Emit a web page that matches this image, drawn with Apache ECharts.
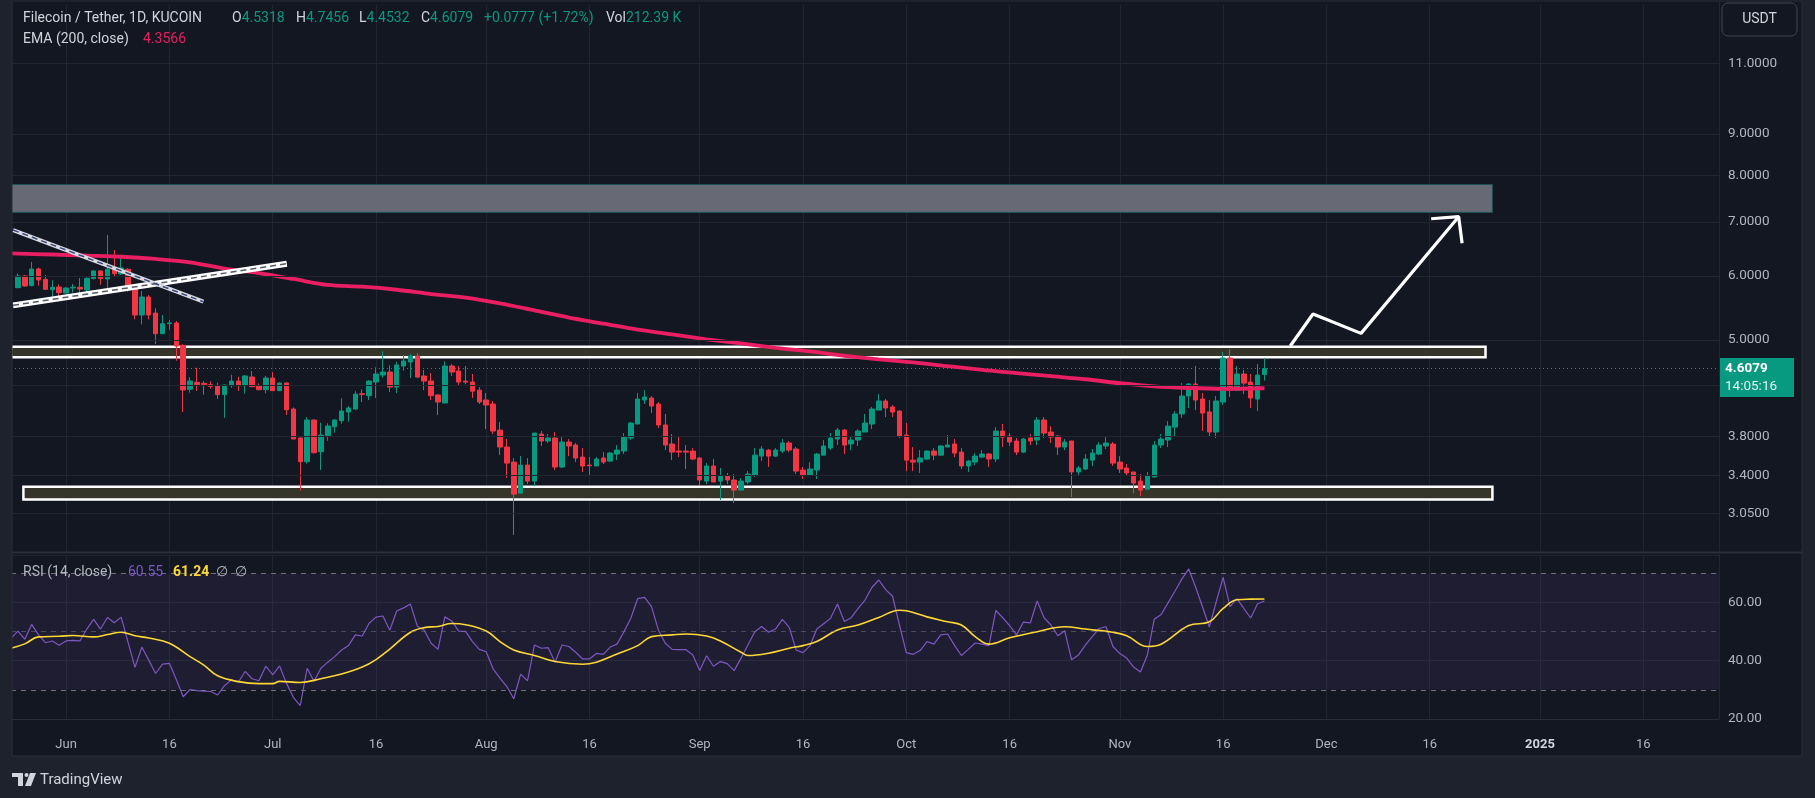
<!DOCTYPE html>
<html><head><meta charset="utf-8">
<script src="https://cdn.jsdelivr.net/npm/echarts@6/dist/echarts.min.js"></script>
<style>html,body{margin:0;padding:0;background:#131722;}#c{width:1815px;height:798px;}</style>
</head><body><div id="c"></div>
<script>
// ---------- DATA (days counted from 2024-06-01) ----------
const axisFirstDay = -8, axisLastDay = 240;
const candleFirstDay = -7;
const opens = [5.805,6.001,5.838,6.122,5.944,5.771,5.815,5.716,5.799,5.810,
5.766,5.956,6.088,5.950,6.116,6.036,6.116,5.805,5.369,5.652,
5.399,5.090,5.238,5.248,4.924,4.343,4.431,4.418,4.401,4.389,
4.278,4.389,4.447,4.389,4.499,4.385,4.339,4.486,4.327,4.422,
4.106,3.780,3.533,3.979,3.635,3.805,3.904,3.971,4.071,4.106,
4.289,4.265,4.434,4.524,4.563,4.371,4.642,4.695,4.776,4.511,
4.447,4.273,4.177,4.642,4.576,4.447,4.434,4.333,4.213,4.165,
3.867,3.684,3.529,3.230,3.499,3.343,3.823,3.748,3.780,3.480,
3.737,3.705,3.580,3.499,3.490,3.570,3.539,3.611,3.642,3.780,
3.934,4.213,4.237,4.165,3.923,3.716,3.642,3.642,3.642,3.570,
3.343,3.490,3.343,3.391,3.353,3.258,3.334,3.401,3.590,3.652,
3.590,3.642,3.727,3.663,3.450,3.401,3.450,3.600,3.673,3.769,
3.867,3.716,3.758,3.845,3.934,4.094,4.201,4.130,4.082,3.812,
3.549,3.529,3.560,3.642,3.600,3.684,3.716,3.631,3.490,3.529,
3.580,3.611,3.560,3.856,3.801,3.748,3.631,3.780,3.758,3.979,
3.845,3.801,3.684,3.748,3.431,3.460,3.549,3.611,3.695,3.716,
3.529,3.470,3.431,3.343,3.267,3.382,3.705,3.758,3.900,4.048,
4.261,4.409,4.225,4.071,3.845,4.189,4.749,4.333,4.537,4.434,
4.225,4.5318];
const closes = [6.001,5.832,6.122,5.933,5.777,5.810,5.722,5.799,5.810,5.782,
5.961,6.088,5.956,6.116,6.041,6.140,5.782,5.369,5.652,5.369,
5.090,5.238,5.248,4.914,4.335,4.447,4.401,4.405,4.380,4.278,
4.397,4.447,4.389,4.512,4.376,4.339,4.486,4.327,4.422,4.098,
3.769,3.533,3.979,3.625,3.812,3.912,3.979,4.082,4.118,4.285,
4.281,4.447,4.537,4.563,4.371,4.655,4.709,4.776,4.498,4.447,
4.265,4.189,4.642,4.563,4.434,4.434,4.321,4.189,4.153,3.856,
3.684,3.519,3.221,3.499,3.343,3.834,3.748,3.780,3.480,3.737,
3.695,3.570,3.490,3.493,3.560,3.529,3.621,3.652,3.790,3.945,
4.225,4.249,4.141,3.923,3.705,3.631,3.631,3.631,3.560,3.353,
3.490,3.334,3.391,3.353,3.258,3.343,3.411,3.600,3.663,3.590,
3.652,3.727,3.652,3.440,3.401,3.460,3.611,3.695,3.780,3.867,
3.705,3.758,3.856,3.945,4.106,4.201,4.118,4.071,3.801,3.549,
3.529,3.570,3.642,3.600,3.695,3.705,3.621,3.490,3.539,3.590,
3.611,3.560,3.856,3.790,3.737,3.631,3.769,3.748,3.979,3.834,
3.790,3.684,3.737,3.431,3.470,3.560,3.621,3.705,3.727,3.519,
3.460,3.421,3.324,3.258,3.391,3.705,3.769,3.911,4.048,4.261,
4.409,4.213,4.059,3.845,4.201,4.749,4.333,4.537,4.421,4.237,
4.524,4.6079];
const lows = [5.794,5.821,5.827,5.838,5.766,5.641,5.663,5.711,5.722,5.722,
5.722,5.944,5.855,5.711,5.990,6.018,5.738,5.303,5.228,5.303,
4.943,5.090,5.144,4.713,4.071,4.302,4.323,4.278,4.351,4.225,
4.004,4.363,4.323,4.290,4.372,4.331,4.294,4.323,4.323,4.036,
3.769,3.253,3.513,3.618,3.450,3.751,3.838,3.937,3.960,4.094,
4.189,4.213,4.237,4.489,4.309,4.297,4.580,4.485,4.485,4.333,
4.213,4.036,4.177,4.511,4.396,4.409,4.237,4.165,3.878,3.823,
3.600,3.372,2.866,3.230,3.315,3.296,3.695,3.727,3.450,3.470,
3.590,3.529,3.431,3.401,3.490,3.509,3.529,3.549,3.611,3.758,
3.934,4.165,4.059,3.889,3.652,3.549,3.580,3.460,3.549,3.305,
3.315,3.334,3.167,3.315,3.140,3.258,3.315,3.382,3.539,3.480,
3.580,3.621,3.631,3.411,3.363,3.401,3.363,3.600,3.652,3.705,
3.611,3.652,3.695,3.845,3.878,4.094,4.013,4.013,3.780,3.440,
3.440,3.421,3.549,3.549,3.600,3.684,3.580,3.460,3.431,3.499,
3.570,3.480,3.529,3.684,3.695,3.600,3.621,3.705,3.705,3.780,
3.727,3.600,3.652,3.194,3.391,3.450,3.490,3.600,3.663,3.490,
3.421,3.391,3.230,3.203,3.267,3.382,3.673,3.684,3.790,4.002,
4.118,4.094,3.856,3.801,3.780,4.153,4.249,4.321,4.285,4.118,
4.082,4.4532];
const highs = [6.047,6.018,6.246,6.146,6.018,5.927,5.860,5.810,5.866,5.967,
5.978,6.099,6.088,6.746,6.463,6.372,6.134,5.821,5.749,5.684,
5.472,5.369,5.293,5.278,4.938,4.499,4.620,4.447,4.443,4.426,
4.401,4.529,4.503,4.521,4.576,4.418,4.512,4.563,4.431,4.431,
4.125,3.790,4.013,3.987,3.949,3.942,3.990,4.233,4.141,4.321,
4.341,4.460,4.624,4.841,4.651,4.700,4.790,4.804,4.813,4.589,
4.550,4.285,4.704,4.668,4.642,4.642,4.537,4.371,4.297,4.201,
3.956,3.769,3.570,3.590,3.570,3.834,3.856,3.823,3.845,3.790,
3.769,3.727,3.673,3.580,3.580,3.631,3.631,3.705,3.834,3.956,
4.297,4.333,4.261,4.189,4.048,3.823,3.801,3.705,3.673,3.580,
3.519,3.560,3.470,3.421,3.411,3.372,3.440,3.673,3.695,3.663,
3.673,3.769,3.748,3.684,3.480,3.529,3.621,3.758,3.834,3.889,
3.878,3.801,3.878,4.048,4.130,4.285,4.225,4.153,4.094,3.945,
3.684,3.652,3.652,3.673,3.705,3.812,3.769,3.673,3.549,3.621,
3.652,3.621,3.900,3.934,3.834,3.780,3.780,3.823,4.013,4.013,
3.911,3.812,3.769,3.748,3.490,3.611,3.663,3.737,3.790,3.737,
3.590,3.509,3.431,3.411,3.431,3.748,3.823,3.967,4.082,4.421,
4.421,4.642,4.297,4.213,4.261,4.831,4.873,4.642,4.589,4.537,
4.668,4.7456];

const emaDays = [-8,-2,3,8,13,18,23,28,33,38,43,48,53,58,63,68,73,78,83,88,93,98,103,108,113,118,123,128,133,138,143,148,153,158,163,168,174];
const emaValues = [6.40,6.38,6.36,6.34,6.30,6.24,6.13,6.05,5.95,5.85,5.82,5.77,5.70,5.64,5.55,5.44,5.33,5.24,5.15,5.08,5.01,4.95,4.89,4.84,4.78,4.73,4.69,4.64,4.59,4.55,4.51,4.47,4.42,4.38,4.36,4.35,4.3566];

const rsiFirstDay = -8;
const rsiValues = [47.7,50.2,47.4,52.5,48.9,46.2,46.8,45.3,46.8,47.0,
46.8,50.9,54.2,50.9,54.9,53.1,55.0,46.3,37.7,44.7,
40.2,35.6,38.8,39.1,33.5,27.6,30.1,29.7,29.5,29.4,
28.2,31.4,33.4,32.6,36.3,33.8,33.1,38.1,35.1,38.2,
32.2,27.4,24.5,37.4,32.9,37.4,39.5,41.4,43.7,45.2,
48.9,48.5,52.9,55.0,55.4,50.5,57.1,58.2,59.5,51.9,
50.5,46.0,43.9,55.1,53.7,50.2,50.1,46.6,43.9,43.1,
37.2,34.0,31.1,26.9,35.4,33.1,45.4,44.3,44.5,39.5,
45.4,44.9,42.9,40.6,40.6,42.5,42.2,44.7,45.7,50.0,
54.6,61.4,61.8,58.6,50.6,46.0,43.9,43.8,43.8,42.0,
36.6,41.7,38.1,39.7,39.0,36.6,40.9,45.4,50.0,51.8,
49.8,50.9,54.2,51.5,43.7,42.8,45.1,50.9,52.7,54.6,
59.5,53.5,54.8,58.0,60.9,65.2,67.8,64.5,62.2,52.3,
42.8,42.2,43.5,46.6,45.7,48.9,49.2,45.3,41.8,43.9,
46.1,45.7,45.2,57.3,54.8,52.1,48.9,53.3,53.0,60.6,
54.8,52.3,48.6,50.3,40.3,42.0,45.4,48.3,51.1,51.7,
44.9,42.5,40.9,37.8,36.1,42.0,54.3,55.9,59.9,63.9,
68.1,71.6,65.4,58.6,51.6,60.3,68.7,58.6,61.4,58.0,
54.7,59.6,60.55];
const rsiMaDays = [-8,-6,-4,-1,1,4,6,8,10,12,15,18,20,22,25,28,30,31,34,37,40,43,45,47,50,52,54,56,58,61,63,65,68,71,75,77,80,83,85,88,90,93,95,98,99,102,105,107,109,112,115,118,121,122,125,128,130,132,134,137,141,145,148,152,154,157,159,163,166,168,170,172,174];
const rsiMaValues = [44.3,45.8,48.2,48.4,48.7,48.2,49.0,49.8,48.6,47.8,46.0,41.4,38.5,34.8,32.8,32.1,32.1,32.9,32.5,33.8,35.4,37.8,40.4,44.0,49.8,51.4,51.8,52.8,52.4,50.2,46.6,43.7,41.8,39.7,38.8,39.5,42.3,45.2,48.3,48.9,49.2,48.5,46.8,42.9,41.8,42.6,44.3,45.2,46.6,50.6,52.3,54.9,57.4,57.2,55.1,53.4,52.3,48.3,45.7,47.9,50.0,51.7,50.9,49.8,48.6,44.9,45.7,52.1,53.4,58.0,61.0,61.2,61.24];

const priceTicks = [3.05, 3.4, 3.8, 4.4, 5, 6, 7, 8, 9, 11];
const priceTicksCoveredByTag = [4.4];
const rsiBands = [30, 50, 70];
const priceRange = [2.7386, 13.0];
const rsiRange = [20, 76.4];

const lastPrice = 4.6079, countdown = '14:05:16';
const legendOHLC = {O: '4.5318', H: '4.7456', L: '4.4532', C: '4.6079'};
const legendChange = '+0.0777 (+1.72%)', legendVol = '212.39 K';
const emaLast = '4.3566', rsiLast = '60.55', rsiMaLast = '61.24';

// drawings (day, price)
const targetZone = [[-8, 7.195], [207.1, 7.79]];
const resistanceZone = [[-8, 4.758], [206.1, 4.905]];
const supportZone = [[-6.2, 3.173], [207.1, 3.289]];
const risingTrend = [[-7.7, 5.519], [32.05, 6.215]];
const fallingTrend = [[-7.7, 6.842], [19.94, 5.576]];
const projectionPath = [[177.75, 4.914], [181.05, 5.384], [188.02, 5.095], [202.2, 7.107]];
const arrowHead = [[198.2, 7.066], [202.2, 7.107], [202.7, 6.587]];

// ---------- BUILD ----------
const FONT = 'Roboto, "Noto Sans", sans-serif';
const gridColor = '#21252f', txt = '#b2b5be', up = '#089981', down = '#f23645';
const base = Date.UTC(2024, 5, 1), DAY = 86400000;
const cats = [];
for (let d = axisFirstDay; d <= axisLastDay; d++) cats.push(new Date(base + d * DAY).toISOString().slice(0, 10));
const cat = d => cats[d - axisFirstDay];
const months = ['Jan','Feb','Mar','Apr','May','Jun','Jul','Aug','Sep','Oct','Nov','Dec'];
const isGridDay = i => { const dd = +cats[i].slice(8, 10); return dd === 1 || dd === 16; };

const candleData = opens.map((o, k) => [cat(candleFirstDay + k), o, closes[k], lows[k], highs[k]]);
const emaData = emaDays.map((d, i) => [cat(d), emaValues[i]]);
const rsiData = rsiValues.map((v, i) => [cat(rsiFirstDay + i), v]);
const rsiMaData = rsiMaDays.map((d, i) => [cat(d), rsiMaValues[i]]);

const chart = echarts.init(document.getElementById('c'), null, {width: 1815, height: 798});

const xCat = (gi, showLabels) => ({
  type: 'category', gridIndex: gi, data: cats, boundaryGap: false,
  axisLine: {show: showLabels, lineStyle: {color: '#2a2e39'}},
  axisTick: {show: false},
  axisLabel: {show: showLabels, interval: (i) => isGridDay(i), margin: 19, color: txt, fontSize: 13, fontFamily: FONT,
    formatter: v => { const y = +v.slice(0,4), m = +v.slice(5,7), dd = +v.slice(8,10);
      if (dd === 16) return '16'; if (m === 1) return '{b|' + y + '}'; return months[m-1]; },
    rich: {b: {fontWeight: 'bold', color: '#d1d4dc', fontSize: 13, fontFamily: FONT}}},
  splitLine: {show: true, interval: (i) => isGridDay(i), lineStyle: {color: gridColor, width: 1}}
});

const lineSeries = (data, color, width, extra) => Object.assign({
  type: 'line', xAxisIndex: 2, yAxisIndex: 0, data, symbol: 'none', silent: true,
  lineStyle: {color, width}, z: 6, animation: false
}, extra || {});

const option = {
  backgroundColor: '#131722',
  animation: false,
  grid: [
    {left: 11, right: 96, top: 5, height: 546},
    {left: 11, right: 96, top: 555, height: 163.8}
  ],
  xAxis: [xCat(0, false), xCat(1, true), {type: 'value', gridIndex: 0, min: axisFirstDay, max: axisLastDay, show: false}],
  yAxis: [
    {type: 'log', gridIndex: 0, min: priceRange[0], max: priceRange[1], position: 'right', show: true,
     axisLine: {show: false}, axisTick: {show: false}, axisLabel: {show: false}, splitLine: {show: false}},
    {type: 'value', gridIndex: 1, min: rsiRange[0], max: rsiRange[1], interval: 20, position: 'right',
     axisLine: {show: false}, axisTick: {show: false},
     axisLabel: {color: txt, fontSize: 13.5, fontFamily: FONT, margin: 9, showMaxLabel: false, formatter: v => v.toFixed(2)},
     splitLine: {lineStyle: {color: gridColor}}}
  ],
  series: [
    {type: 'line', xAxisIndex: 2, yAxisIndex: 0, data: [], z: 0, silent: true,
     markLine: {silent: true, symbol: ['none','none'], animation: false,
       lineStyle: {color: gridColor, width: 1, type: 'solid'},
       label: {position: 'end', distance: 9, color: txt, fontSize: 13.5, fontFamily: FONT, formatter: p => p.value.toFixed(4)},
       emphasis: {disabled: true},
       data: priceTicks.map(v => ({yAxis: v, label: {show: priceTicksCoveredByTag.indexOf(v) < 0}}))}},
    {type: 'line', xAxisIndex: 2, yAxisIndex: 0, data: [], z: 1, silent: true,
     markArea: {silent: true, animation: false, emphasis: {disabled: true},
       data: [
         [{coord: targetZone[0], itemStyle: {color: '#676a74', borderColor: '#1d5257', borderWidth: 1}}, {coord: targetZone[1]}],
         [{coord: resistanceZone[0], itemStyle: {color: '#35352a', borderColor: '#ffffff', borderWidth: 2.5}}, {coord: resistanceZone[1]}],
         [{coord: supportZone[0], itemStyle: {color: '#35352a', borderColor: '#ffffff', borderWidth: 2.5}}, {coord: supportZone[1]}]
       ]}},
    {type: 'candlestick', xAxisIndex: 0, yAxisIndex: 0, data: candleData, encode: {x: 0, y: [1,2,3,4]},
     barWidth: 5, z: 3, silent: true,
     itemStyle: {color: up, color0: down, borderColor: up, borderColor0: down, borderWidth: 1},
     markLine: {silent: true, symbol: ['none','none'], animation: false, emphasis: {disabled: true},
       lineStyle: {color: up, width: 1, type: [1, 3]},
       label: {position: 'end', distance: 0,
         formatter: '{s| }\n{a|' + lastPrice.toFixed(4) + '}\n{b|' + countdown + '}',
         rich: {
           s: {height: 18, lineHeight: 18, fontSize: 12},
           a: {color: '#ffffff', fontSize: 13.5, fontWeight: 'bold', fontFamily: FONT, backgroundColor: up, width: 63, height: 19, lineHeight: 19, padding: [1, 6, 0, 6]},
           b: {color: '#e4f2ee', fontSize: 13.5, fontFamily: FONT, backgroundColor: up, width: 63, height: 19, lineHeight: 19, padding: [0, 6, 1, 6]}
         }},
       data: [{yAxis: lastPrice}]}},
    {type: 'line', xAxisIndex: 0, yAxisIndex: 0, data: emaData, symbol: 'none', smooth: 0.3, silent: true, z: 4,
     lineStyle: {color: '#e91e63', width: 3.8}},
    lineSeries(risingTrend, '#ffffff', 6),
    lineSeries(risingTrend, '#555a66', 1.5, {lineStyle: {color: '#555a66', width: 1.5, type: [6, 4]}, z: 7}),
    lineSeries(fallingTrend, '#d9dbe0', 4),
    lineSeries(fallingTrend, '#3b4a80', 1.5, {lineStyle: {color: '#3b4a80', width: 1.5, type: [6, 4]}, z: 7}),
    lineSeries(projectionPath, '#ffffff', 3.2, {z: 8}),
    lineSeries(arrowHead, '#ffffff', 3.2, {z: 8}),
    {type: 'line', xAxisIndex: 1, yAxisIndex: 1, data: rsiData, symbol: 'none', silent: true, z: 3,
     lineStyle: {color: '#7e57c2', width: 1.2},
     markArea: {silent: true, emphasis: {disabled: true}, itemStyle: {color: 'rgba(126,87,194,0.1)'},
       data: [[{yAxis: rsiBands[0]}, {yAxis: rsiBands[2]}]]},
     markLine: {silent: true, symbol: ['none','none'], emphasis: {disabled: true}, label: {show: false},
       data: [
         {yAxis: rsiBands[2], lineStyle: {color: 'rgba(120,123,134,0.9)', type: [5, 5], width: 1}},
         {yAxis: rsiBands[1], lineStyle: {color: 'rgba(120,123,134,0.5)', type: [5, 5], width: 1}},
         {yAxis: rsiBands[0], lineStyle: {color: 'rgba(120,123,134,0.9)', type: [5, 5], width: 1}}
       ]}},
    {type: 'line', xAxisIndex: 1, yAxisIndex: 1, data: rsiMaData, symbol: 'none', smooth: 0.4, silent: true, z: 4,
     lineStyle: {color: '#fdd835', width: 1.6}}
  ],
  graphic: [
    {type: 'rect', shape: {x: 0, y: 0, width: 12, height: 798}, style: {fill: '#1e222d'}, z: 100, silent: true},
    {type: 'rect', shape: {x: 1802, y: 0, width: 13, height: 798}, style: {fill: '#1e222d'}, z: 100, silent: true},
    {type: 'rect', shape: {x: 0, y: 756, width: 1815, height: 42}, style: {fill: '#1e222d'}, z: 100, silent: true},
    {type: 'rect', shape: {x: 12, y: 1, width: 1790, height: 755}, style: {fill: 'none', stroke: '#2a2e39', lineWidth: 1}, z: 101, silent: true},
    {type: 'line', shape: {x1: 12, y1: 552.5, x2: 1802, y2: 552.5}, style: {stroke: '#2a2e39', lineWidth: 2}, z: 101, silent: true},
    {type: 'line', shape: {x1: 1719.5, y1: 1, x2: 1719.5, y2: 719}, style: {stroke: '#222631', lineWidth: 1}, z: 101, silent: true},
    {type: 'text', x: 23, y: 18, z: 102, silent: true, style: {text: 'Filecoin / Tether, 1D, KUCOIN', fill: '#d1d4dc', font: '14px ' + FONT, verticalAlign: 'middle'}},
    ...['O','H','L','C'].map((k, i) => ({type: 'text', x: [232, 296, 359, 421][i], y: 18, z: 102, silent: true,
      style: {rich: {l: {fill: '#d1d4dc', font: '14px ' + FONT}, v: {fill: up, font: '14px ' + FONT}}, text: '{l|' + k + '}{v|' + legendOHLC[k] + '}', verticalAlign: 'middle'}})),
    {type: 'text', x: 484, y: 18, z: 102, silent: true, style: {text: legendChange, fill: up, font: '14px ' + FONT, verticalAlign: 'middle'}},
    {type: 'text', x: 606, y: 18, z: 102, silent: true, style: {rich: {l: {fill: '#d1d4dc', font: '14px ' + FONT}, v: {fill: up, font: '14px ' + FONT}}, text: '{l|Vol}{v|' + legendVol + '}', verticalAlign: 'middle'}},
    {type: 'text', x: 23, y: 39, z: 102, silent: true, style: {text: 'EMA (200, close)', fill: '#d1d4dc', font: '14px ' + FONT, verticalAlign: 'middle'}},
    {type: 'text', x: 143, y: 39, z: 102, silent: true, style: {text: emaLast, fill: '#e91e63', font: '14px ' + FONT, verticalAlign: 'middle'}},
    {type: 'text', x: 23, y: 572, z: 102, silent: true, style: {text: 'RSI (14, close)', fill: '#b2b5be', font: '14px ' + FONT, verticalAlign: 'middle'}},
    {type: 'text', x: 128, y: 572, z: 102, silent: true, style: {text: rsiLast, fill: '#7e57c2', font: '14px ' + FONT, verticalAlign: 'middle'}},
    {type: 'text', x: 173, y: 572, z: 102, silent: true, style: {text: rsiMaLast, fill: '#fdd835', font: 'bold 14px ' + FONT, verticalAlign: 'middle'}},
    {type: 'text', x: 216, y: 572, z: 102, silent: true, style: {text: '\u2205', fill: '#b2b5be', font: '14px ' + FONT, verticalAlign: 'middle'}},
    {type: 'text', x: 235, y: 572, z: 102, silent: true, style: {text: '\u2205', fill: '#b2b5be', font: '14px ' + FONT, verticalAlign: 'middle'}},
    {type: 'rect', shape: {x: 1722, y: 3, width: 75, height: 33, r: 6}, style: {fill: '#131722', stroke: '#434651', lineWidth: 1}, z: 102, silent: true},
    {type: 'text', x: 1759.5, y: 19.5, z: 103, silent: true, style: {text: 'USDT', fill: '#d1d4dc', font: '14px ' + FONT, align: 'center', verticalAlign: 'middle'}},
    {type: 'rect', shape: {x: 12, y: 773, width: 11, height: 4}, style: {fill: '#d1d4dc'}, z: 102, silent: true},
    {type: 'rect', shape: {x: 18, y: 773, width: 5, height: 13}, style: {fill: '#d1d4dc'}, z: 102, silent: true},
    {type: 'circle', shape: {cx: 26.5, cy: 775, r: 2}, style: {fill: '#d1d4dc'}, z: 102, silent: true},
    {type: 'polygon', shape: {points: [[30, 773], [36, 773], [31, 786], [25, 786]]}, style: {fill: '#d1d4dc'}, z: 102, silent: true},
    {type: 'text', x: 40, y: 780, z: 102, silent: true, style: {text: 'TradingView', fill: '#d1d4dc', font: '15px ' + FONT, verticalAlign: 'middle'}}
  ]
};
chart.setOption(option);
</script>
</body></html>
